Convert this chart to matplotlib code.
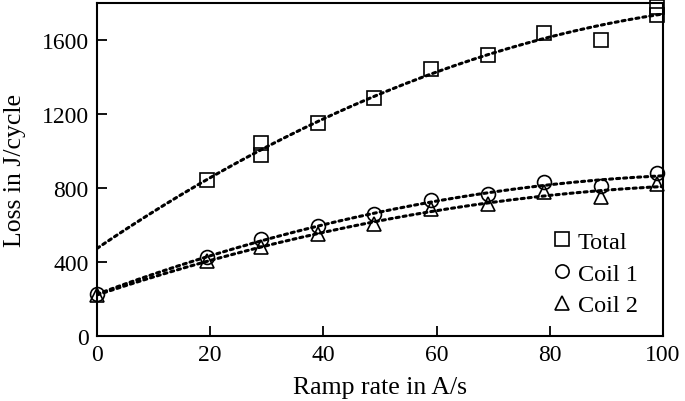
import numpy as np
import matplotlib
matplotlib.use("Agg")
import matplotlib.pyplot as plt

plt.rcParams['font.family'] = ['Liberation Serif', 'DejaVu Serif']

# Values
total_x = [19.5, 29, 29, 39, 49, 59, 69, 79, 89, 99, 99]
total_y = [843, 1043, 978, 1151, 1286, 1443, 1519, 1638, 1600, 1778, 1735]

coil1_x = [0, 19.5, 29, 39, 49, 59, 69, 79, 89, 99]
coil1_y = [225, 425, 522, 594, 657, 733, 768, 832, 811, 881]

coil2_x = [0, 19.5, 29, 39, 49, 59, 69, 79, 89, 99]
coil2_y = [222, 403, 483, 553, 608, 686, 714, 777, 751, 822]

series = [
    ("Total", total_x, total_y, "s"),
    ("Coil 1", coil1_x, coil1_y, "o"),
    ("Coil 2", coil2_x, coil2_y, "^"),
]

fig = plt.figure(figsize=(6.85, 4.02), dpi=100)
ax = fig.add_axes([0.1416, 0.1617, 0.8264, 0.8283])

xfit = np.linspace(0, 100, 200)
for label, xs, ys, m in series:
    coef = np.polyfit(xs, ys, 2)
    ax.plot(xfit, np.polyval(coef, xfit), color='black', linestyle=(0, (1, 1.3)),
            linewidth=2.2, dash_capstyle='round', zorder=2)
    ax.plot(xs, ys, linestyle='none', marker=m, markersize=10,
            markerfacecolor='none', markeredgecolor='black',
            markeredgewidth=1.2, label=label, zorder=3, clip_on=False)

ax.set_xlim(0, 100)
ax.set_ylim(0, 1800)
ax.set_xticks([0, 20, 40, 60, 80, 100])
ax.set_yticks([0, 400, 800, 1200, 1600])
ax.tick_params(direction='in', length=7, width=1.3, labelsize=17, pad=6)
for s in ax.spines.values():
    s.set_linewidth(1.5)

ax.set_xlabel("Ramp rate in A/s", fontsize=18.5, labelpad=8)
ax.set_ylabel("Loss in J/cycle", fontsize=18.5, labelpad=11)

ax.legend(loc='lower right', frameon=False, fontsize=17.5, handlelength=0.8,
          handletextpad=0.25, labelspacing=0.4, borderaxespad=0.3,
          markerscale=0.95, bbox_to_anchor=(0.985, 0.008))

fig.savefig("out.png", dpi=100)
